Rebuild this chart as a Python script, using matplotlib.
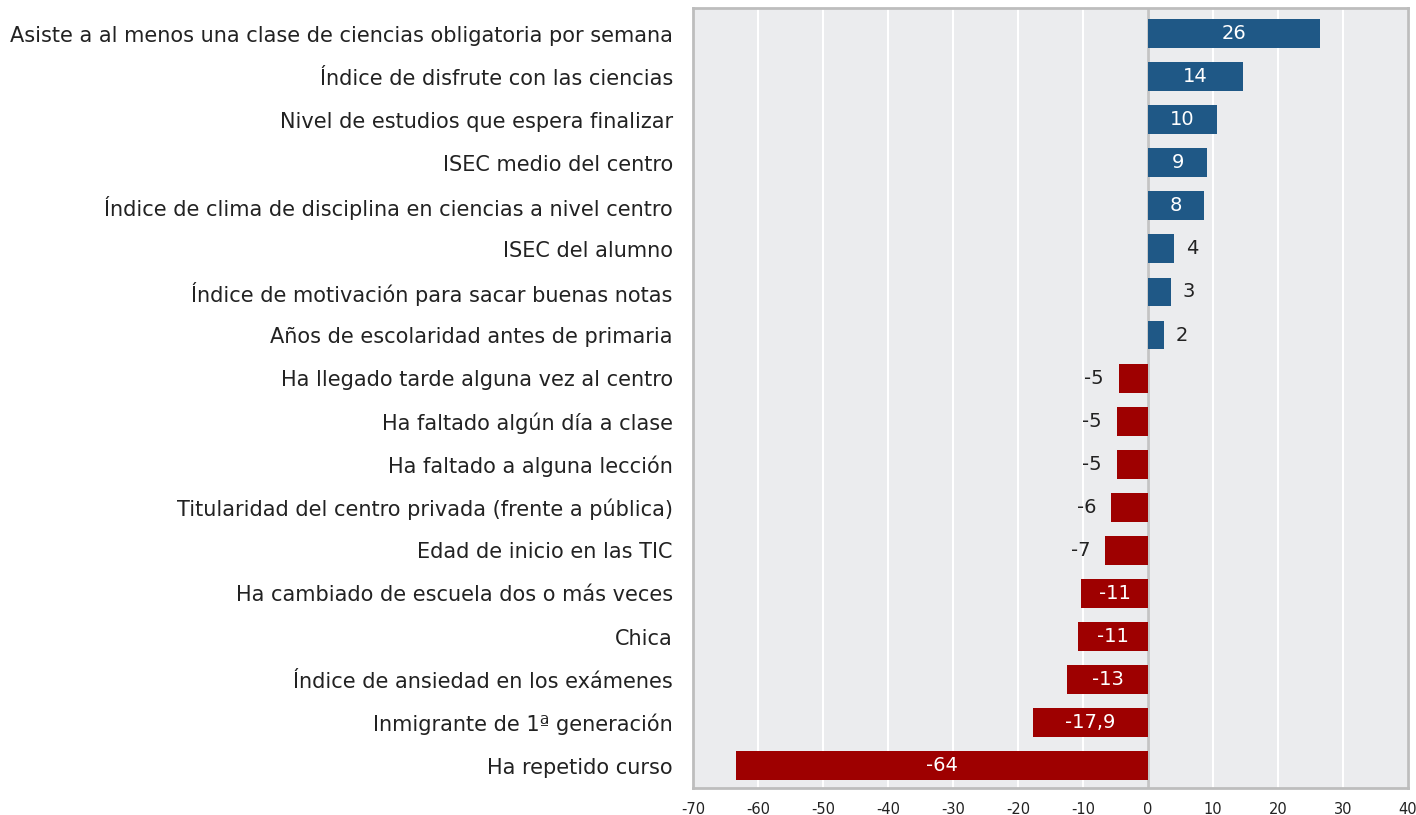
import numpy as np
import matplotlib.pyplot as plt

# factores (de arriba a abajo)
factores = [
    'Asiste a al menos una clase de ciencias obligatoria por semana',
    'Índice de disfrute con las ciencias',
    'Nivel de estudios que espera finalizar',
    'ISEC medio del centro',
    'Índice de clima de disciplina en ciencias a nivel centro',
    'ISEC del alumno',
    'Índice de motivación para sacar buenas notas',
    'Años de escolaridad antes de primaria',
    'Ha llegado tarde alguna vez al centro',
    'Ha faltado algún día a clase',
    'Ha faltado a alguna lección',
    'Titularidad del centro privada (frente a pública)',
    'Edad de inicio en las TIC',
    'Ha cambiado de escuela dos o más veces',
    'Chica',
    'Índice de ansiedad en los exámenes',
    'Inmigrante de 1ª generación',
    'Ha repetido curso',
]
valores = [26.4, 14.6, 10.6, 9.1, 8.6, 4.0, 3.5, 2.5, -4.5, -4.8, -4.8, -5.7,
           -6.6, -10.3, -10.8, -12.4, -17.7, -63.4]
etiquetas = ['26', '14', '10', '9', '8', '4', '3', '2', '-5', '-5', '-5', '-6',
             '-7', '-11', '-11', '-13', '-17,9', '-64']

azul = '#1F5886'
rojo = '#9E0000'

plt.rcParams['font.family'] = ['DejaVu Sans']
plt.rcParams['axes.unicode_minus'] = False

fig = plt.figure(figsize=(14.16, 8.15), dpi=100)
ax = fig.add_axes([0.4894, 0.033, 0.5050, 0.957])
ax.set_facecolor('#EBECEE')

y = np.arange(len(factores))
colores = [azul if v > 0 else rojo for v in valores]
ax.barh(y, valores, height=0.67, color=colores, zorder=3)

for yi, v, lab in zip(y, valores, etiquetas):
    if abs(v) >= 8:
        ax.text(v / 2, yi, lab, color='white', ha='center', va='center',
                fontsize=14, zorder=4)
    else:
        off = 1.8 if v > 0 else -2.3
        ax.text(v + off, yi, lab, color='#222222',
                ha='left' if v > 0 else 'right', va='center',
                fontsize=14, zorder=4)

ax.set_xlim(-70, 40)
ax.set_ylim(17.52, -0.59)
ax.set_xticks(np.arange(-70, 41, 10))
ax.set_yticks(y)
ax.set_yticklabels(factores, fontsize=15, color='#222222')
ax.tick_params(axis='x', labelsize=10.5, length=0, pad=10, colors='#222222')
ax.tick_params(axis='y', length=0, pad=14.5)
ax.grid(axis='x', color='white', linewidth=1.5, zorder=1)
ax.axvline(0, color='#C4C4C4', linewidth=2, zorder=2)
for s in ax.spines.values():
    s.set_color('#BDBDBD')
    s.set_linewidth(2)

fig.savefig('out.png', dpi=100)
